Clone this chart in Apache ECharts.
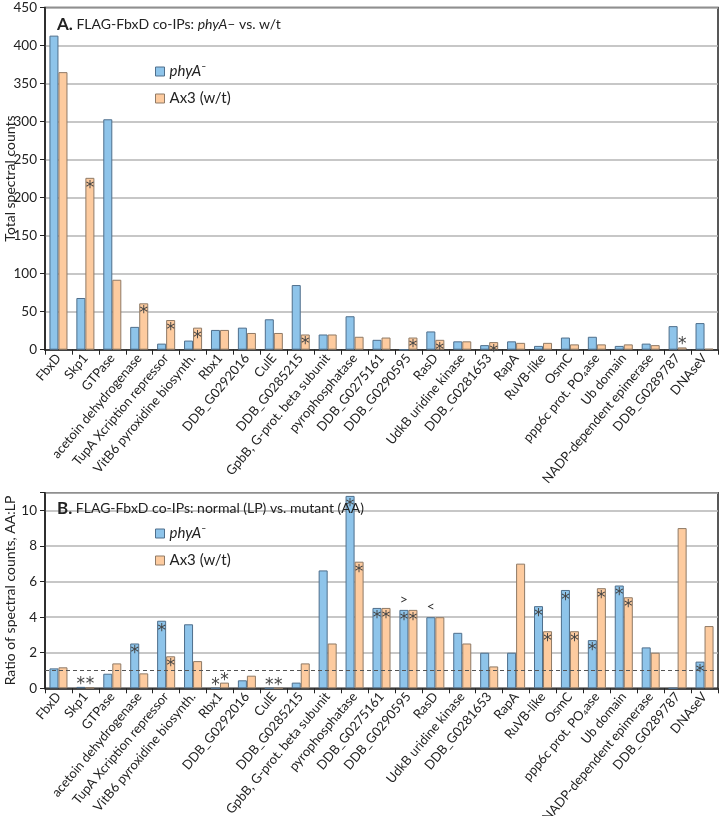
<!DOCTYPE html>
<html><head><meta charset="utf-8">
<script src="https://cdn.jsdelivr.net/npm/echarts@6/dist/echarts.min.js"></script>
<style>html,body{margin:0;padding:0;background:#fff}#c{width:720px;height:816px}</style>
</head><body><div id="c"></div>
<script>
const categories = ['FbxD','Skp1','GTPase','acetoin dehydrogenase','TupA Xcription repressor','VitB6 pyroxidine biosynth.','Rbx1','DDB_G0292016','CulE','DDB_G0285215','GpbB, G-prot. beta subunit','pyrophosphatase','DDB_G0275161','DDB_G0290595','RasD','UdkB uridine kinase','DDB_G0281653','RapA','RuVB-like','OsmC','ppp6c prot. PO\u2084ase','Ub domain','NADP-dependent epimerase','DDB_G0289787','DNAseV'];
const seriesNames = ['phyA\u207B', 'Ax3 (w/t)'];
// Panel A: total spectral counts
const countsPhyA = [413,68,303,30,8,12,26,29,40,85,20,44,13,0,24,11,6,11,5,16,17,5,8,31,35];
const countsAx3  = [365,226,92,61,39,29,26,22,22,20,20,17,16,16,13,11,10,9,9,7,7,7,6,3,1.3];
const countsTicks = [0,50,100,150,200,250,300,350,400,450];
// Panel B: ratio AA:LP
const ratioPhyA = [1.12,0.08,0.82,2.52,3.8,3.6,0,0.45,0,0.32,6.63,10.82,4.52,4.41,4.0,3.12,2.0,2.0,4.62,5.53,2.71,5.78,2.3,0,1.5];
const ratioAx3  = [1.18,0.03,1.4,0.84,1.8,1.53,0.32,0.71,0,1.4,2.52,7.12,4.52,4.41,4.0,2.52,1.23,7.01,3.21,3.21,5.63,5.12,2.0,9.01,3.5];
const ratioTicks = [0,2,4,6,8,10];
const ratioThreshold = 1;
// significance asterisks (by category): inside bar top / above bar
const starsA_phyA_in = [];
const starsA_phyA_above = [];
const starsA_ax3_in = ['Skp1','acetoin dehydrogenase','TupA Xcription repressor','VitB6 pyroxidine biosynth.','DDB_G0285215','DDB_G0290595','RasD','DDB_G0281653'];
const starsA_ax3_above = ['DDB_G0289787'];
const starsB_phyA_in = ['acetoin dehydrogenase','TupA Xcription repressor','pyrophosphatase','DDB_G0275161','DDB_G0290595','RuVB-like','OsmC','ppp6c prot. PO\u2084ase','Ub domain','DNAseV'];
const starsB_phyA_above = ['Skp1','Rbx1','CulE'];
const starsB_ax3_in = ['TupA Xcription repressor','pyrophosphatase','DDB_G0275161','DDB_G0290595','RuVB-like','OsmC','ppp6c prot. PO\u2084ase','Ub domain'];
const starsB_ax3_above = ['Skp1','Rbx1','CulE'];
// comparison marks above categories in panel B
const compareMarks = [['DDB_G0290595', 4.41, '>'], ['RasD', 4.0, '<']];

const FONT = 'Lato';
const BLUE = '#8ec4ea', BLUE_B = '#4f6f8c';
const ORANGE = '#fdcb9f', ORANGE_B = '#8f7a66';

function buildData(vals, inList, aboveList) {
  return vals.map((v, i) => {
    const c = categories[i];
    if (inList.includes(c)) return {value: v, label: {show: true, position: 'insideTop', distance: 1, offset:[0,1]}};
    if (aboveList.includes(c)) return {value: v, label: {show: true, position: 'top', distance: 0, offset:[0,6]}};
    return v;
  });
}
const starLabel = {show: false, formatter: '*', color: '#444', fontSize: 17, fontFamily: 'DejaVu Sans'};

function barSeries(name, data, idx, color, border) {
  return {
    name, type: 'bar', xAxisIndex: idx, yAxisIndex: idx, data,
    barGap: '0%', barCategoryGap: '33%',
    itemStyle: {color, borderColor: border, borderWidth: 1},
    label: starLabel, emphasis: {disabled: true}, animation: false
  };
}

const xAxisCommon = {
  type: 'category', data: categories,
  axisLine: {lineStyle: {color: '#222', width: 1.5}},
  axisTick: {show: true, length: 5, lineStyle: {color: '#222'}},
  axisLabel: {interval: 0, rotate: 50, fontSize: 13, color: '#222', fontFamily: FONT, margin: 6}
};
const yAxisCommon = {
  type: 'value',
  axisLine: {show: true, lineStyle: {color: '#222', width: 1.5}},
  axisTick: {show: true, length: 5, lineStyle: {color: '#222'}},
  axisLabel: {fontSize: 13.5, color: '#222', fontFamily: FONT, margin: 8},
  splitLine: {lineStyle: {color: '#b5b5b5', width: 1.5}},
  nameLocation: 'middle', nameGap: 28, nameMoveOverlap: false,
  nameTextStyle: {fontSize: 14, color: '#222', fontFamily: FONT}
};

const legendCommon = {
  orient: 'vertical', left: 150, itemWidth: 9, itemHeight: 9, itemGap: 12,
  icon: 'rect', selectedMode: false,
  itemStyle: {borderWidth: 1},
  textStyle: {fontSize: 15, color: '#222', fontFamily: FONT,
    rich: {i: {fontStyle: 'italic', fontSize: 15, fontFamily: FONT, color: '#222'}, n: {fontSize: 15, fontFamily: FONT, color: '#222'}}},
  formatter: n => n === seriesNames[0] ? '{i|phyA}{n|\u207B}' : n,
  data: seriesNames
};

const option = {
  animation: false,
  title: [
    {left: 52, top: 11, text: '{b|A.} FLAG-FbxD co-IPs: {i|phyA}\u2013 vs. w/t',
     textStyle: {fontSize: 14, fontWeight: 'normal', color: '#222', fontFamily: FONT,
       rich: {b: {fontSize: 17, fontWeight: 'bold', color: '#222', fontFamily: FONT}, i: {fontStyle: 'italic', fontSize: 14, color: '#222', fontFamily: FONT}}}},
    {left: 52, top: 495, text: '{b|B.} FLAG-FbxD co-IPs: normal (LP) vs. mutant (AA)',
     textStyle: {fontSize: 14, fontWeight: 'normal', color: '#222', fontFamily: FONT,
       rich: {b: {fontSize: 17, fontWeight: 'bold', color: '#222', fontFamily: FONT}}}}
  ],
  legend: [
    Object.assign({}, legendCommon, {top: 59}),
    Object.assign({}, legendCommon, {top: 521})
  ],
  grid: [
    {left: 45, right: 2, top: 7.5, height: 342.2, show: true, borderColor: '#222', borderWidth: 1.5, containLabel: false, outerBoundsMode: 'none'},
    {left: 45, right: 2, top: 492.7, height: 195.6, show: true, borderColor: '#222', borderWidth: 1.5, containLabel: false, outerBoundsMode: 'none'}
  ],
  xAxis: [
    Object.assign({}, xAxisCommon, {gridIndex: 0}),
    Object.assign({}, xAxisCommon, {gridIndex: 1})
  ],
  yAxis: [
    Object.assign({}, yAxisCommon, {gridIndex: 0, min: countsTicks[0], max: countsTicks[countsTicks.length-1], interval: countsTicks[1]-countsTicks[0], name: 'Total spectral counts'}),
    Object.assign({}, yAxisCommon, {gridIndex: 1, min: ratioTicks[0], max: 11, interval: ratioTicks[1]-ratioTicks[0], name: 'Ratio of spectral counts, AA:LP',
      axisLabel: Object.assign({}, yAxisCommon.axisLabel, {formatter: v => ratioTicks.includes(v) ? String(v) : ''})})
  ],
  series: [
    barSeries(seriesNames[0], buildData(countsPhyA, starsA_phyA_in, starsA_phyA_above), 0, BLUE, BLUE_B),
    barSeries(seriesNames[1], buildData(countsAx3, starsA_ax3_in, starsA_ax3_above), 0, ORANGE, ORANGE_B),
    Object.assign(barSeries(seriesNames[0], buildData(ratioPhyA, starsB_phyA_in, starsB_phyA_above), 1, BLUE, BLUE_B), {
      markLine: {silent: true, symbol: 'none', label: {show: false},
        lineStyle: {type: [4, 3], color: '#555', width: 1.2}, data: [{yAxis: ratioThreshold}]},
      markPoint: {silent: true, symbol: 'rect', symbolSize: 1, itemStyle: {color: 'rgba(0,0,0,0)'},
        label: {show: true, position: 'top', distance: 3, fontSize: 14, color: '#333', fontFamily: FONT, formatter: p => p.data.mark},
        data: compareMarks.map(m => ({coord: [m[0], m[1]], mark: m[2]}))}
    }),
    barSeries(seriesNames[1], buildData(ratioAx3, starsB_ax3_in, starsB_ax3_above), 1, ORANGE, ORANGE_B)
  ]
};
const chart = echarts.init(document.getElementById('c'), null, {renderer: 'canvas'});
chart.setOption(option);
</script>
</body></html>
